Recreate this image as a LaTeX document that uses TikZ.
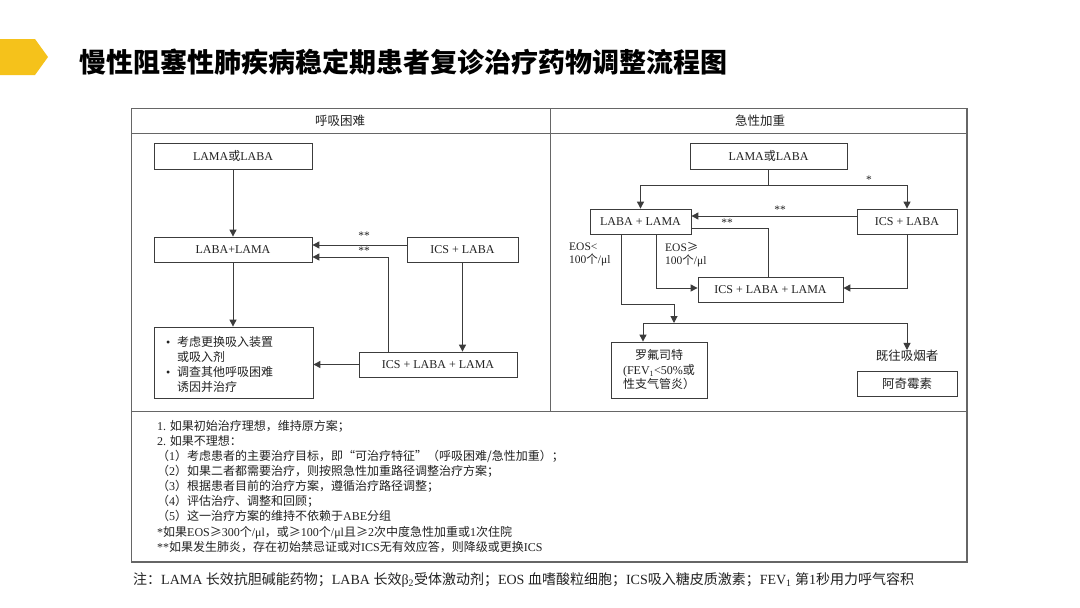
\documentclass[tikz,border=0pt]{standalone}
\usepackage{fontspec}
\setmainfont{Liberation Serif}
\newfontfamily\cjk{Noto Sans CJK SC}
\usetikzlibrary{arrows.meta}
\newcommand\zh[1]{{\cjk #1}}
\newcommand\lat[1]{{\rmfamily #1}}
\definecolor{linec}{HTML}{3C3C3C}
\definecolor{framec}{HTML}{666666}
\definecolor{txt}{HTML}{222222}
\definecolor{gold}{HTML}{F5C21B}
\begin{document}
\begin{tikzpicture}[x=1pt,y=-1pt,
  box/.style={draw=linec, line width=0.8pt, inner sep=0pt, font=\fontsize{12}{14}\selectfont, text=txt},
  conn/.style={draw=linec, line width=1pt},
  arr/.style={conn, -{Triangle[length=7pt,width=7pt]}},
  lbl/.style={inner sep=0pt, font=\fontsize{11.5}{13}\selectfont, text=txt},
  frame/.style={draw=framec, line width=0.9pt},
]
\useasboundingbox[fill=white] (0,0) rectangle (1080,608);

% title
\fill[gold] (0,39) -- (35,39) -- (48,57) -- (35,75) -- (0,75) -- cycle;
\node[anchor=west, inner sep=0pt, font=\cjk\bfseries\fontsize{27}{32}\selectfont] (title) at (79,62) {慢性阻塞性肺疾病稳定期患者复诊治疗药物调整流程图};

% frame
\draw[frame] (131,108) rectangle (967,562);
\draw[framec, line width=1.6pt] (967,108) -- (967,562) -- (131,562);
\draw[frame] (131,133) -- (967,133);
\draw[frame] (550,108) -- (550,411);
\draw[frame] (131,411) -- (967,411);
\node[font=\cjk\fontsize{12.5}{14}\selectfont, text=txt] (h1) at (340,121) {呼吸困难};
\node[font=\cjk\fontsize{12.5}{14}\selectfont, text=txt] (h2) at (760,121) {急性加重};

% left panel
\node[box, minimum width=158pt, minimum height=26pt] (A) at (233,156) {LAMA\zh{或}LABA};
\node[box, minimum width=158pt, minimum height=25pt] (B) at (233,249.5) {LABA+LAMA};
\node[box, minimum width=111pt, minimum height=25pt] (C) at (462.5,249.5) {ICS + LABA};
\node[box, minimum width=159pt, minimum height=71pt] (D) at (233.5,362.5) {};
\node[anchor=north west, inner sep=0pt, align=left, font=\fontsize{12}{15}\selectfont, text=txt] (Dt) at (166,336)
  {\makebox[11pt][l]{•}\zh{考虑更换吸入装置}\\\hspace*{11pt}\zh{或吸入剂}\\\makebox[11pt][l]{•}\zh{调查其他呼吸困难}\\\hspace*{11pt}\zh{诱因并治疗}};
\node[box, minimum width=158pt, minimum height=25pt] (E) at (438,364.5) {ICS + LABA + LAMA};

\coordinate (xE) at (388,257);
\draw[arr] (A) -- (B);
\draw[arr] (B.south) -- (B.south |- D.north);
\draw[arr] ([yshift=4.5pt]C.west) -- ([yshift=4.5pt]B.east);
\draw[arr] (E.north -| xE) -- (xE) -- (B.east |- xE);
\draw[arr] (C.south) -- (C.south |- E.north);
\draw[arr] (E.west) -- (D.east |- E.west);
\node[lbl] (s1) at (364,236) {**};
\node[lbl] (s2) at (364,251) {**};

% right panel
\node[box, minimum width=157pt, minimum height=26pt] (R1) at (768.5,156) {LAMA\zh{或}LABA};
\node[box, minimum width=101pt, minimum height=25pt] (R2) at (640.5,221.5) {LABA + LAMA};
\node[box, minimum width=100pt, minimum height=25pt] (R3) at (907,221.5) {ICS + LABA};
\node[box, minimum width=145pt, minimum height=25pt] (R4) at (770.5,289.5) {ICS + LABA + LAMA};
\node[box, minimum width=96pt, minimum height=56pt, align=center, font=\fontsize{12}{14.5}\selectfont] (R5) at (659,370)
  {\zh{罗氟司特}\\(FEV\textsubscript{1}<50\%\zh{或}\\\zh{性支气管炎）}};
\node[inner sep=0pt, font=\cjk\fontsize{12.5}{14}\selectfont, text=txt] (smk) at (907,356) {既往吸烟者};
\node[box, minimum width=100pt, minimum height=25pt, font=\cjk\fontsize{12.5}{14}\selectfont] (R6) at (907,383.5) {阿奇霉素};

\coordinate (sp) at (768,185);
\coordinate (r42) at (768,228);
\coordinate (r24) at (656,288);
\coordinate (d1) at (621,304);
\coordinate (d2) at (674,304);
\coordinate (j) at (674,323);
\coordinate (jl) at (643,323);

\draw[conn] (R1.south -| sp) -- (sp);
\draw[arr] (sp) -| (R2.north);
\draw[arr] (sp) -| (R3.north);
\node[lbl] (st) at (869,180) {*};
\draw[arr] ([yshift=5.5pt]R3.west) -- ([yshift=5.5pt]R2.east);
\node[lbl] (st2) at (780,210) {**};
\draw[conn] (R4.north -| r42) -- (r42) -- (R2.east |- r42);
\node[lbl] (st3) at (727,223) {**};
\draw[arr] (R2.south -| r24) -- (r24) -- (R4.west |- r24);
\draw[arr] (R3.south) |- (R4.east |- r24);
\draw[arr] (R2.south -| d1) -- (d1) -- (d2) -- (j);
\draw[arr] (j) -- (jl) -- (R5.north -| jl);
\draw[arr] (jl) -| (smk.north);
\node[lbl, anchor=west, align=left] (eos1) at (569,254.5) {EOS<\\100\zh{个}/μl};
\node[lbl, anchor=west, align=left] (eos2) at (665,254.5) {EOS\zh{≥}\\100\zh{个}/μl};

% notes
\node[anchor=north west, inner sep=0pt, align=left, font=\cjk\fontsize{12}{15.1}\selectfont, text=txt] (notes) at (157,420)
  {\lat{1.} 如果初始治疗理想，维持原方案；\\
   \lat{2.} 如果不理想：\\
   （\lat{1}）考虑患者的主要治疗目标，即“可治疗特征”（呼吸困难/急性加重）；\\
   （\lat{2}）如果二者都需要治疗，则按照急性加重路径调整治疗方案；\\
   （\lat{3}）根据患者目前的治疗方案，遵循治疗路径调整；\\
   （\lat{4}）评估治疗、调整和回顾；\\
   （\lat{5}）这一治疗方案的维持不依赖于\lat{ABE}分组\\
   \lat{*}如果\lat{EOS}≥\lat{300}个\lat{/μl}，或≥\lat{100}个\lat{/μl}且≥\lat{2}次中度急性加重或\lat{1}次住院\\
   \lat{**}如果发生肺炎，存在初始禁忌证或对\lat{ICS}无有效应答，则降级或更换\lat{ICS}};

% footer
\node[anchor=west, inner sep=0pt, font=\fontsize{14}{16}\selectfont, text=txt] (foot) at (133,580)
  {\zh{注：}LAMA \zh{长效抗胆碱能药物；}LABA \zh{长效}β\textsubscript{2}\zh{受体激动剂；}EOS \zh{血嗜酸粒细胞；}ICS\zh{吸入糖皮质激素；}FEV\textsubscript{1} \zh{第}1\zh{秒用力呼气容积}};
\end{tikzpicture}
\end{document}
